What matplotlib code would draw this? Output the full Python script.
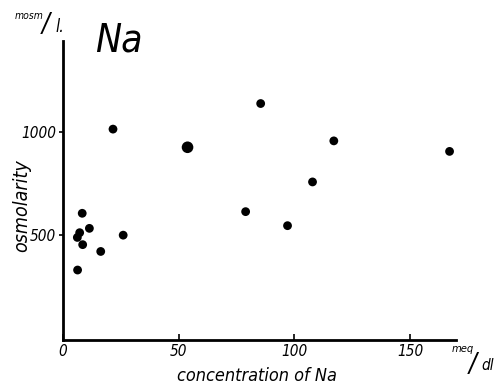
import matplotlib
matplotlib.use("Agg")
import matplotlib.pyplot as plt

# Na concentration (meq/dl) vs osmolarity (mosm/l)
conc_small = [8.3, 11.4, 7.2, 6.2, 8.5, 26.0, 16.3, 6.3, 21.6, 78.9, 97.0, 107.8, 85.4, 117.0, 167.0]
osmo_small = [607, 534, 513, 490, 455, 501, 422, 332, 1015, 615, 547, 759, 1139, 958, 907]
conc_large = [53.8]
osmo_large = [927]

x_ticks = [0, 50, 100, 150]
x_ticklabels = ["0", "50", "100", "150"]
y_ticks = [500, 1000]
y_ticklabels = ["500", "1000"]

FONT = ["DejaVu Sans"]
TXT = dict(family=FONT, style="italic", stretch="condensed")

fig = plt.figure(figsize=(5.0, 3.87), dpi=100)
ax = fig.add_axes([0.126, 0.121, 0.787, 0.773])

ax.scatter(conc_small, osmo_small, s=40, color="black", edgecolors="none", zorder=3)
ax.scatter(conc_large, osmo_large, s=70, color="black", edgecolors="none", zorder=3)

ax.set_xlim(0, 170)
ax.set_ylim(-8, 1442)

for side in ("top", "right"):
    ax.spines[side].set_visible(False)
for side in ("left", "bottom"):
    ax.spines[side].set_linewidth(2.0)
    ax.spines[side].set_color("black")

ax.set_xticks(x_ticks)
ax.set_xticklabels(x_ticklabels, fontsize=11, **TXT)
ax.set_yticks(y_ticks)
ax.set_yticklabels(y_ticklabels, fontsize=11, **TXT)
ax.tick_params(axis="x", direction="in", length=4, width=1.2, pad=3)
ax.tick_params(axis="y", direction="out", length=3, width=1.2, pad=2)

fig.text(0.044, 0.468, "osmolarity", rotation=90, fontsize=14,
         ha="center", va="center", **TXT)
fig.text(0.514, 0.006, "concentration of Na", fontsize=13,
         ha="center", va="bottom", **TXT)

# unit labels
fig.text(0.904, 0.090, "meq", fontsize=8, ha="left", va="baseline", **TXT)
fig.text(0.938, 0.040, "/", fontsize=19, ha="left", va="baseline", **TXT)
fig.text(0.962, 0.044, "dl", fontsize=11, ha="left", va="baseline", **TXT)
fig.text(0.030, 0.950, "mosm", fontsize=7.5, ha="left", va="baseline", **TXT)
fig.text(0.084, 0.918, "/", fontsize=19, ha="left", va="baseline", **TXT)
fig.text(0.110, 0.918, "l.", fontsize=12, ha="left", va="baseline", **TXT)

fig.text(0.190, 0.868, "Na", fontsize=28, ha="left", **TXT)

fig.savefig("out.png", dpi=100, facecolor="white")
